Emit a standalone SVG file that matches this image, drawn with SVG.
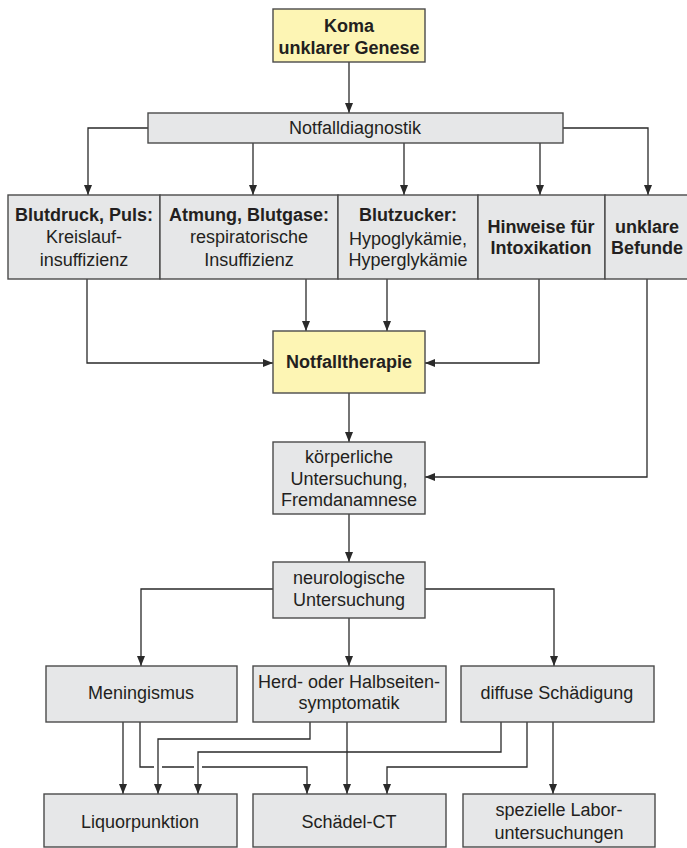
<svg xmlns="http://www.w3.org/2000/svg" width="687" height="848" viewBox="0 0 687 848">
<style>
.box{fill:#e6e7e8;stroke:#4a4a4a;stroke-width:1.4}
.yel{fill:#fdf5b4;stroke:#4a4a4a;stroke-width:1.4}
text{font-family:"Liberation Sans",Arial,sans-serif;font-size:18px;fill:#231f20;text-anchor:middle}
.b{font-weight:bold}
.c{fill:none;stroke:#2a2a2a;stroke-width:1.3}
</style>
<defs>
<marker id="a" markerUnits="userSpaceOnUse" markerWidth="10" markerHeight="8" refX="10" refY="4" orient="auto" viewBox="0 0 10 8">
<path d="M0,0 L10,4 L0,8 z" fill="#2a2a2a"/>
</marker>
</defs>
<rect width="687" height="848" fill="#fff"/>
<g id="connectors">
<path class="c" marker-end="url(#a)" d="M349,62 V113"/>
<path class="c" marker-end="url(#a)" d="M148,128 H88 V195"/>
<path class="c" marker-end="url(#a)" d="M253,143 V195"/>
<path class="c" marker-end="url(#a)" d="M404,143 V195"/>
<path class="c" marker-end="url(#a)" d="M540,143 V195"/>
<path class="c" marker-end="url(#a)" d="M563,128 H648 V195"/>
<path class="c" marker-end="url(#a)" d="M87,279 V363 H273"/>
<path class="c" marker-end="url(#a)" d="M306,279 V331"/>
<path class="c" marker-end="url(#a)" d="M387,279 V331"/>
<path class="c" marker-end="url(#a)" d="M539,279 V363 H425"/>
<path class="c" marker-end="url(#a)" d="M647,279 V477 H425"/>
<path class="c" marker-end="url(#a)" d="M349,393 V442"/>
<path class="c" marker-end="url(#a)" d="M349,514 V562"/>
<path class="c" marker-end="url(#a)" d="M273,589 H141 V666"/>
<path class="c" marker-end="url(#a)" d="M349,618 V666"/>
<path class="c" marker-end="url(#a)" d="M425,589 H554 V666"/>
<path class="c" marker-end="url(#a)" d="M123,722 V794"/>
<path class="c" marker-end="url(#a)" d="M140,722 V767 H154 M162,767 H194 M202,767 H307 V794"/>
<path class="c" marker-end="url(#a)" d="M310,722 V739 H158 V794"/>
<path class="c" marker-end="url(#a)" d="M347,722 V794"/>
<path class="c" marker-end="url(#a)" d="M501,722 V752 H198 V794"/>
<path class="c" marker-end="url(#a)" d="M527,722 V767 H387 V794"/>
<path class="c" marker-end="url(#a)" d="M553,722 V794"/>
</g>
<g id="koma">
<rect class="yel" x="273" y="9" width="152" height="53"/>
<text class="b" x="349" y="32">Koma</text>
<text class="b" x="349" y="54">unklarer Genese</text>
</g>
<g id="notfalldiagnostik">
<rect class="box" x="148" y="113" width="415" height="30"/>
<text x="355" y="134">Notfalldiagnostik</text>
</g>
<g id="blutdruck">
<rect class="box" x="8" y="195" width="152" height="84"/>
<text class="b" x="84" y="221">Blutdruck, Puls:</text>
<text x="84" y="243">Kreislauf-</text>
<text x="84" y="266">insuffizienz</text>
</g>
<g id="atmung">
<rect class="box" x="160" y="195" width="178" height="84"/>
<text class="b" x="249" y="221">Atmung, Blutgase:</text>
<text x="249" y="243">respiratorische</text>
<text x="249" y="266">Insuffizienz</text>
</g>
<g id="blutzucker">
<rect class="box" x="338" y="195" width="140" height="84"/>
<text class="b" x="408" y="221">Blutzucker:</text>
<text x="408" y="245">Hypoglykämie,</text>
<text x="408" y="266">Hyperglykämie</text>
</g>
<g id="intoxikation">
<rect class="box" x="478" y="195" width="127" height="84"/>
<text class="b" x="541" y="233">Hinweise für</text>
<text class="b" x="541" y="254">Intoxikation</text>
</g>
<g id="unklare">
<rect class="box" x="605" y="195" width="86" height="84"/>
<text class="b" x="647" y="233">unklare</text>
<text class="b" x="647" y="254">Befunde</text>
</g>
<g id="notfalltherapie">
<rect class="yel" x="273" y="331" width="152" height="62"/>
<text class="b" x="349" y="368">Notfalltherapie</text>
</g>
<g id="koerperliche">
<rect class="box" x="273" y="442" width="152" height="72"/>
<text x="349" y="463">körperliche</text>
<text x="349" y="485">Untersuchung,</text>
<text x="349" y="506">Fremdanamnese</text>
</g>
<g id="neurologische">
<rect class="box" x="273" y="562" width="152" height="56"/>
<text x="349" y="584">neurologische</text>
<text x="349" y="606">Untersuchung</text>
</g>
<g id="meningismus">
<rect class="box" x="46" y="666" width="191" height="56"/>
<text x="141" y="699">Meningismus</text>
</g>
<g id="herd">
<rect class="box" x="253" y="666" width="193" height="56"/>
<text x="349" y="688">Herd- oder Halbseiten-</text>
<text x="349" y="709">symptomatik</text>
</g>
<g id="diffuse">
<rect class="box" x="461" y="666" width="193" height="56"/>
<text x="557" y="699">diffuse Schädigung</text>
</g>
<g id="liquorpunktion">
<rect class="box" x="44" y="794" width="193" height="53"/>
<text x="140" y="828">Liquorpunktion</text>
</g>
<g id="schaedelct">
<rect class="box" x="253" y="794" width="193" height="53"/>
<text x="349" y="828">Schädel-CT</text>
</g>
<g id="labor">
<rect class="box" x="463" y="794" width="192" height="53"/>
<text x="559" y="816">spezielle Labor-</text>
<text x="559" y="839">untersuchungen</text>
</g>
</svg>
